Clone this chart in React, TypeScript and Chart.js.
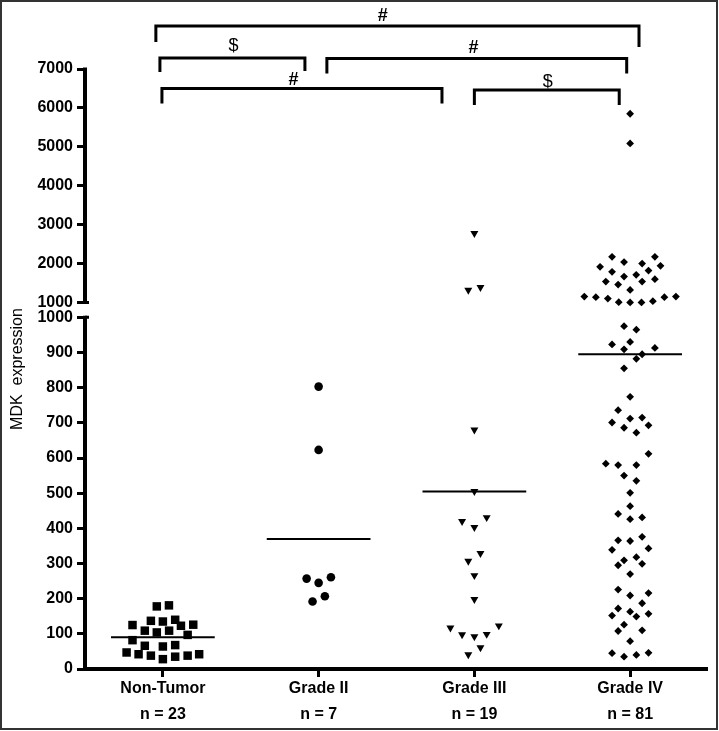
import React, { useEffect, useRef } from "react";
import { Chart, registerables } from "chart.js";

Chart.register(...registerables);

const FONT = '"Liberation Sans", Arial, Helvetica, sans-serif';

const categories = ["Non-Tumor", "Grade II", "Grade III", "Grade IV"];
const counts = ["n = 23", "n = 7", "n = 19", "n = 81"];

// values; jitter = horizontal offset from category centre (category units)
const nonTumorValues = [178, 181, 137, 135, 140, 125, 123, 126, 109, 109, 104, 97, 82, 66, 64, 68, 47, 42, 38, 35, 38, 42, 28];
const nonTumorJitter = [-0.039, 0.039, -0.077, 0, 0.079, -0.195, 0.116, 0.195, -0.116, 0.04, -0.039, 0.159, -0.195, -0.116, 0, 0.079, -0.233, -0.156, -0.077, 0.079, 0.159, 0.233, 0];

const gradeIIValues = [803, 623, 257, 261, 245, 207, 192];
const gradeIIJitter = [0, 0, -0.077, 0.079, 0, 0.04, -0.039];

const gradeIIIValues = [2780, 1320, 1390, 680, 505, 420, 431, 403, 329, 307, 266, 198, 117, 123, 98, 92, 99, 61, 41];
const gradeIIIJitter = [0, -0.039, 0.039, 0, 0, -0.079, 0.079, 0, 0.039, -0.039, 0, 0, -0.154, 0.157, -0.079, 0, 0.079, 0.039, -0.039];

const gradeIVValues = [
  5851, 5087, 2175, 2175, 2039, 2003, 1918, 1943, 1789, 1823, 1712, 1668, 1540, 1540, 1601, 1463, 1326,
  1154, 1139, 1103, 1139, 1154, 1010, 1005, 1005, 1036,
  975, 965, 923, 930, 909, 913, 895, 882, 855, 774, 736, 712, 715, 701, 693, 686, 672, 612, 584, 580, 580,
  550, 535, 501, 463, 441, 426, 431, 366, 364, 376, 339, 343, 309, 318, 295, 299, 270, 226, 209, 216, 187,
  172, 152, 163, 149, 157, 126, 108, 110, 79, 45, 35, 40, 46,
];
const gradeIVJitter = [
  0, 0, -0.116, 0.159, -0.039, 0.077, -0.193, 0.195, -0.116, 0.118, 0.039, -0.039, -0.156, 0.077, 0.159, -0.077, 0,
  -0.294, -0.22, -0.143, 0.22, 0.294, -0.073, 0, 0.073, 0.146,
  -0.039, 0.04, -0.116, 0, -0.039, 0.159, 0.077, 0.04, -0.039, 0, -0.077, 0, 0.077, -0.116, 0.118, -0.039, 0.04, 0.118, -0.156, -0.077, 0.04,
  -0.039, 0.04, 0, 0, -0.077, 0, 0.077, -0.077, 0, 0.077, -0.116, 0.118, -0.039, 0.04, -0.077, 0.077, 0, -0.077, 0, 0.118, 0.077,
  -0.077, -0.116, 0, 0.04, 0.118, -0.039, -0.077, 0.077, 0, -0.116, -0.039, 0.04, 0.118,
];

const meanValues = [90, 370, 505, 895];
const MEAN_HALF_WIDTH = 0.333;

const lowerTicks = [0, 100, 200, 300, 400, 500, 600, 700, 800, 900, 1000];
const upperTicks = [1000, 2000, 3000, 4000, 5000, 6000, 7000];

// broken axis: lower segment 0–1000, gap, upper segment 1000–7000 compressed
const LOWER_MAX = 1000;
const BREAK_GAP = 42;
const UPPER_FACTOR = 0.1107;
const upperPos = (v: number) => LOWER_MAX + BREAK_GAP + (v - LOWER_MAX) * UPPER_FACTOR;
const toAxis = (v: number) => (v <= LOWER_MAX ? v : upperPos(v));

const yTickPositions = [...lowerTicks.map((v) => v), ...upperTicks.map(upperPos)];
const yTickLabels = [...lowerTicks, ...upperTicks].map(String);

// significance brackets (x in category units, y in canvas px)
const brackets = [
  { from: 0.955, to: 4.057, label: "#", labelAt: 2.411, y: 26, dropL: 16, dropR: 21, labelY: 16.5, bold: true },
  { from: 0.981, to: 1.912, label: "$", labelAt: 1.454, y: 58, dropL: 14, dropR: 13, labelY: 46.5, bold: false },
  { from: 2.053, to: 3.978, label: "#", labelAt: 2.995, y: 58.5, dropL: 15, dropR: 15, labelY: 48, bold: true },
  { from: 0.994, to: 2.792, label: "#", labelAt: 1.839, y: 88.5, dropL: 15, dropR: 15, labelY: 80.5, bold: true },
  { from: 3.0, to: 3.93, label: "$", labelAt: 3.471, y: 90, dropL: 15, dropR: 15, labelY: 82, bold: false },
];

const groups = [
  { values: nonTumorValues, jitter: nonTumorJitter, style: "rect", radius: 6, rotation: 0 },
  { values: gradeIIValues, jitter: gradeIIJitter, style: "circle", radius: 4.3, rotation: 0 },
  { values: gradeIIIValues, jitter: gradeIIIJitter, style: "triangle", radius: 4.6, rotation: 180 },
  { values: gradeIVValues, jitter: gradeIVJitter, style: "rectRot", radius: 3.9, rotation: 0 },
];

const decorPlugin = {
  id: "decor",
  afterDraw(chart: any) {
    const { ctx, scales } = chart;
    const x = scales.x;
    const y = scales.y;
    const ax = x.left;
    const y0 = y.getPixelForValue(0);
    const yL = y.getPixelForValue(LOWER_MAX);
    const yU = y.getPixelForValue(upperPos(LOWER_MAX));
    const yTop = y.getPixelForValue(upperPos(7000));
    ctx.save();
    ctx.strokeStyle = "#000";
    ctx.lineCap = "butt";
    ctx.lineWidth = 4;
    ctx.beginPath();
    ctx.moveTo(ax, y0 + 2);
    ctx.lineTo(ax, yL - 1.5);
    ctx.moveTo(ax, yTop - 1.5);
    ctx.lineTo(ax, yU + 1.5);
    ctx.moveTo(ax - 2, y0);
    ctx.lineTo(x.right, y0);
    ctx.stroke();
    ctx.lineWidth = 3;
    ctx.beginPath();
    ctx.moveTo(ax, yL);
    ctx.lineTo(ax + 4, yL);
    ctx.moveTo(ax, yU);
    ctx.lineTo(ax + 4, yU);
    ctx.stroke();

    // brackets
    ctx.lineWidth = 3;
    ctx.lineJoin = "miter";
    ctx.fillStyle = "#000";
    ctx.textAlign = "center";
    ctx.textBaseline = "middle";
    for (const b of brackets) {
      const xa = x.getPixelForValue(b.from);
      const xb = x.getPixelForValue(b.to);
      ctx.beginPath();
      ctx.moveTo(xa, b.y + b.dropL);
      ctx.lineTo(xa, b.y);
      ctx.lineTo(xb, b.y);
      ctx.lineTo(xb, b.y + b.dropR);
      ctx.stroke();
      ctx.font = `${b.bold ? "bold " : ""}18px ${FONT}`;
      ctx.fillText(b.label, x.getPixelForValue(b.labelAt), b.labelY);
    }

    // frame
    ctx.strokeStyle = "#333";
    ctx.lineWidth = 2;
    ctx.strokeRect(1, 1, 716, 728);
    ctx.restore();
  },
};

export default function App() {
  const ref = useRef<HTMLCanvasElement>(null);
  useEffect(() => {
    if (!ref.current) return;
    const datasets: any[] = groups.map((g, gi) => ({
      type: "scatter",
      data: g.values.map((v, i) => ({ x: gi + 1 + g.jitter[i], y: toAxis(v) })),
      pointStyle: g.style,
      pointRadius: g.radius,
      pointRotation: g.rotation,
      pointBackgroundColor: "#000",
      pointBorderColor: "#000",
      pointBorderWidth: 0,
      clip: false,
    }));
    meanValues.forEach((m, gi) => {
      datasets.push({
        type: "scatter",
        showLine: true,
        data: [
          { x: gi + 1 - MEAN_HALF_WIDTH, y: toAxis(m) },
          { x: gi + 1 + MEAN_HALF_WIDTH, y: toAxis(m) },
        ],
        borderColor: "#000",
        borderWidth: 2,
        pointRadius: 0,
        clip: false,
      });
    });
    const tickFont = { family: FONT, size: 16, weight: "bold" as const };
    const chart = new Chart(ref.current, {
      type: "scatter",
      data: { datasets },
      options: {
        animation: false,
        responsive: false,
        devicePixelRatio: 1,
        events: [],
        layout: { padding: { top: 69, right: 11, bottom: 0, left: 0 } },
        plugins: { legend: { display: false }, tooltip: { enabled: false } },
        scales: {
          x: {
            type: "linear",
            min: 0.5,
            max: 4.5,
            afterBuildTicks: (s: any) => {
              s.ticks = categories.map((_, i) => ({ value: i + 1 }));
            },
            afterFit: (s: any) => {
              s.height = 62;
            },
            ticks: {
              autoSkip: false,
              maxRotation: 0,
              padding: -2,
              color: "#000",
              font: { ...tickFont, lineHeight: 1.65 },
              callback: (_v: any, i: number) => [categories[i], counts[i]],
            },
            grid: { drawOnChartArea: false, drawTicks: true, tickLength: 8, tickWidth: 3, tickColor: "#000" },
            border: { display: false },
          },
          y: {
            type: "linear",
            min: 0,
            max: upperPos(7000),
            afterBuildTicks: (s: any) => {
              s.ticks = yTickPositions.map((p) => ({ value: p }));
            },
            afterFit: (s: any) => {
              s.width = 85;
            },
            ticks: {
              autoSkip: false,
              padding: 4,
              color: "#000",
              font: tickFont,
              callback: (_v: any, i: number) => yTickLabels[i],
            },
            grid: { drawOnChartArea: false, drawTicks: true, tickLength: 8, tickWidth: 3, tickColor: "#000" },
            border: { display: false },
            title: {
              display: true,
              text: "MDK  expression",
              color: "#000",
              font: { family: FONT, size: 16 },
              padding: { top: 8, bottom: 0 },
            },
          },
        },
      },
      plugins: [decorPlugin],
    });
    return () => chart.destroy();
  }, []);
  return (
    <div style={{ position: "absolute", left: 0, top: 0, width: 719, height: 731, background: "#fff" }}>
      <canvas ref={ref} width={719} height={731} style={{ display: "block" }} />
    </div>
  );
}
